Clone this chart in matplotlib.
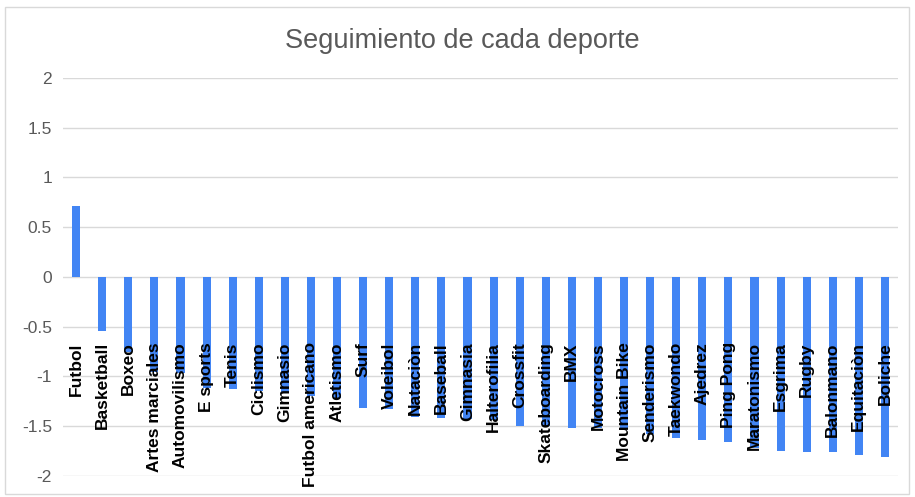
import numpy as np
import matplotlib
matplotlib.use('Agg')
import matplotlib.pyplot as plt
from matplotlib.patches import Rectangle

# Data
deportes = ['Futbol', 'Basketball', 'Boxeo', 'Artes marciales', 'Automovilismo',
            'E sports', 'Tenis', 'Ciclismo', 'Gimnasio', 'Futbol americano',
            'Atletismo', 'Surf', 'Voleibol', 'Nataciòn', 'Baseball', 'Gimnasia',
            'Halterofilia', 'Crossfit', 'Skateboarding', 'BMX', 'Motocross',
            'Mountain Bike', 'Senderismo', 'Taekwondo', 'Ajedrez', 'Ping Pong',
            'Maratonismo', 'Esgrima', 'Rugby', 'Balonmano', 'Equitaciòn', 'Boliche']
seguimiento = [0.71, -0.54, -0.75, -0.95, -0.97, -1.12, -1.13, -1.15, -1.17, -1.2,
               -1.22, -1.32, -1.33, -1.41, -1.42, -1.43, -1.44, -1.5, -1.5, -1.52,
               -1.52, -1.53, -1.58, -1.62, -1.64, -1.66, -1.72, -1.75, -1.76, -1.76,
               -1.79, -1.81]
yticks = [2, 1.5, 1, 0.5, 0, -0.5, -1, -1.5, -2]
ytick_labels = ['2', '1.5', '1', '0.5', '0', '-0.5', '-1', '-1.5', '-2']

plt.rcParams['font.family'] = ['Liberation Sans', 'DejaVu Sans']

fig = plt.figure(figsize=(9.15, 4.97), dpi=100, facecolor='white')
ax = fig.add_axes([0.0689, 0.0423, 0.9125, 0.8008])

# chart border
fig.patches.append(Rectangle((5 / 915, 3 / 497), 904 / 915, 487 / 497,
                             transform=fig.transFigure, fill=False,
                             edgecolor='#d9d9d9', linewidth=1))

x = np.arange(len(deportes))
ax.bar(x, seguimiento, width=0.31, color='#4285f4', zorder=2)

# category labels sit inside the plot, over the bars
label_y = -0.655
for xi, name in zip(x, deportes):
    ax.text(xi, label_y, name, rotation=90, ha='center', va='top',
            fontsize=12.5, fontweight='bold', color='black', zorder=3)

ax.set_xlim(-0.5, len(deportes) - 0.5)
ax.set_ylim(-2, 2)
ax.set_yticks(yticks)
ax.set_yticklabels(ytick_labels, fontsize=12.5, color='#595959')
ax.set_xticks([])
ax.tick_params(axis='y', length=0, pad=8)
ax.grid(axis='y', color='#d9d9d9', linewidth=1, zorder=0)
ax.set_axisbelow(True)
for s in ax.spines.values():
    s.set_visible(False)

fig.text(0.505, 0.917, 'Seguimiento de cada deporte', ha='center', va='center',
         fontsize=19.5, color='#595959')

plt.savefig('out.png', dpi=100, facecolor='white')
